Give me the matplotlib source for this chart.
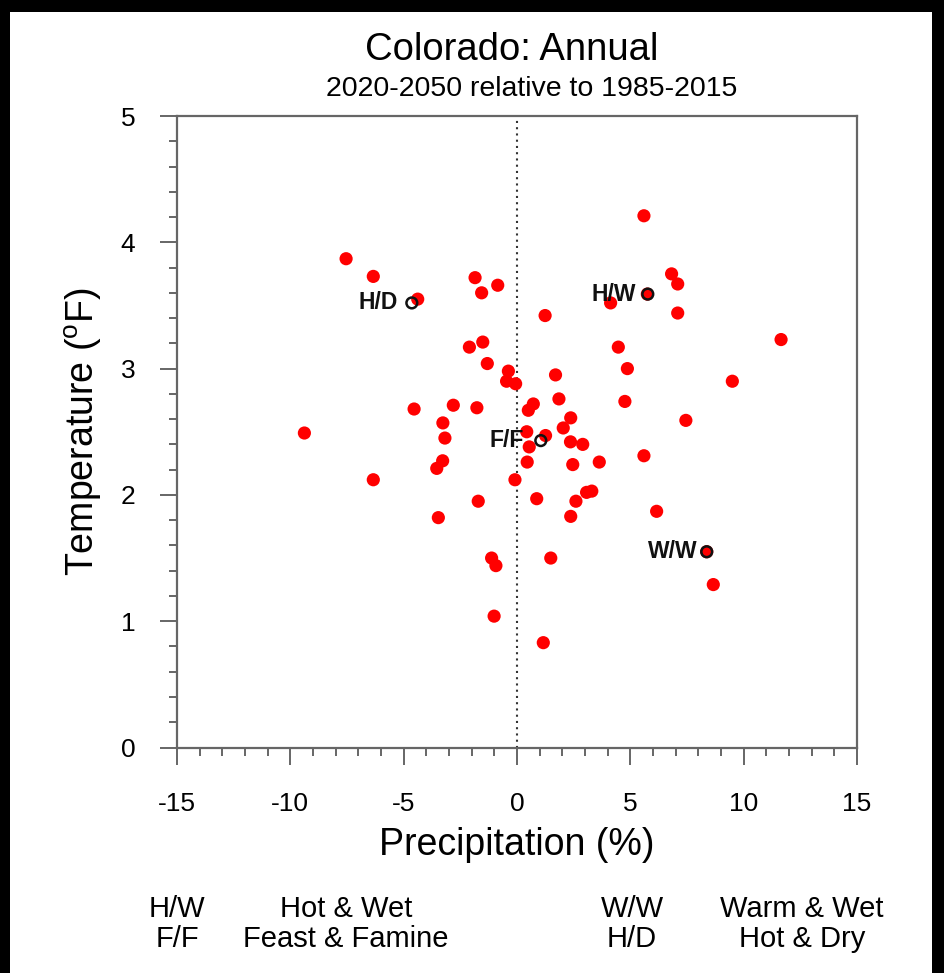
import matplotlib
matplotlib.use("Agg")
import matplotlib.pyplot as plt
from matplotlib.patches import Rectangle
from matplotlib.ticker import MultipleLocator

plt.rcParams["font.family"] = ["Liberation Sans", "DejaVu Sans"]
plt.rcParams["mathtext.fontset"] = "custom"
plt.rcParams["mathtext.rm"] = "Liberation Sans"
plt.rcParams["axes.unicode_minus"] = False

# model projections: precipitation change (%) and temperature change (F)
precip = [-7.54, -6.34, -4.38, -1.85, -0.85, -1.56, -2.10, -1.51, -1.31, -0.38,
          -0.46, -0.06, -4.54, -2.81, -1.77, -3.27, -3.18, -9.38, -3.28, -3.54,
          -6.34, -0.09, -1.71, -3.47, -1.12, -0.93, -1.01, 1.24, 1.70, 0.72,
          0.50, 1.85, 2.37, 2.04, 0.43, 1.26, 0.54, 2.36, 2.90, 0.45,
          2.46, 3.63, 5.60, 0.87, 2.60, 3.07, 3.30, 2.37, 6.16, 1.49,
          1.16, 8.37, 8.66, 5.60, 6.82, 7.09, 5.75, 4.13, 7.09, 11.65,
          4.47, 4.87, 9.50, 4.76, 7.45]
temp = [3.87, 3.73, 3.55, 3.72, 3.66, 3.60, 3.17, 3.21, 3.04, 2.98,
        2.90, 2.88, 2.68, 2.71, 2.69, 2.57, 2.45, 2.49, 2.27, 2.21,
        2.12, 2.12, 1.95, 1.82, 1.50, 1.44, 1.04, 3.42, 2.95, 2.72,
        2.67, 2.76, 2.61, 2.53, 2.50, 2.47, 2.38, 2.42, 2.40, 2.26,
        2.24, 2.26, 2.31, 1.97, 1.95, 2.02, 2.03, 1.83, 1.87, 1.50,
        0.83, 1.55, 1.29, 4.21, 3.75, 3.67, 3.59, 3.52, 3.44, 3.23,
        3.17, 3.00, 2.90, 2.74, 2.59]

# selected scenario models
sel_labels = ["H/D", "H/W", "F/F", "W/W"]
sel_precip = [-4.64, 5.77, 1.05, 8.37]
sel_temp = [3.52, 3.59, 2.43, 1.55]

key_abbr = ["H/W\nF/F", "W/W\nH/D"]
key_desc = ["Hot & Wet\nFeast & Famine", "Warm & Wet\nHot & Dry"]

fig = plt.figure(figsize=(9.45, 9.73), dpi=100, facecolor="black")
# white page inside the black border
fig.patches.append(Rectangle((10 / 945, 0), 922 / 945, 1 - 12 / 973,
                             transform=fig.transFigure, facecolor="white",
                             edgecolor="none", zorder=-10))

ax = fig.add_axes([177 / 945, 1 - 747.5 / 973, 680 / 945, 631.5 / 973])
frame = "#666666"

ax.axvline(0, color="#333333", lw=1.5, ls=(0, (1, 2)), zorder=1)
ax.scatter(precip, temp, s=90, color="#ff0000", edgecolors="none", zorder=2)
ax.scatter(sel_precip, sel_temp, s=60, facecolors="none", edgecolors="#111111",
           linewidths=1.8, zorder=3)
for lab, x, y in zip(sel_labels, sel_precip, sel_temp):
    ax.text(x - 1.5, y, lab, ha="center", va="center", fontsize=16.5,
            fontweight="bold", color="#111111", zorder=4)

ax.set_xlim(-15, 15)
ax.set_ylim(0, 5)
ax.xaxis.set_major_locator(MultipleLocator(5))
ax.xaxis.set_minor_locator(MultipleLocator(1))
ax.yaxis.set_major_locator(MultipleLocator(1))
ax.yaxis.set_minor_locator(MultipleLocator(0.2))
ax.tick_params(which="both", direction="out", color=frame, width=1.4,
               top=False, right=False)
ax.tick_params(which="major", length=12, labelsize=19)
ax.tick_params(which="minor", length=5.5)
ax.tick_params(axis="x", which="major", pad=20)
ax.tick_params(axis="y", which="major", pad=18)
for sp in ax.spines.values():
    sp.set_color(frame)
    sp.set_linewidth(1.6)

ax.set_xlabel("Precipitation (%)", fontsize=27, labelpad=8)
ax.set_ylabel(r"Temperature ($^{\mathrm{o}}$F)", fontsize=27, labelpad=12)

fig.text(512 / 945, 1 - 50 / 973, "Colorado: Annual", ha="center",
         va="center", fontsize=27.5)
fig.text(532 / 945, 1 - 89 / 973, "2020-2050 relative to 1985-2015",
         ha="center", va="center", fontsize=20.5)

for abbr, desc, xa, xd in zip(key_abbr, key_desc, [177, 632], [346, 802]):
    fig.text(xa / 945, 1 - 924 / 973, abbr, ha="center", va="center",
             fontsize=21, linespacing=1.05)
    fig.text(xd / 945, 1 - 924 / 973, desc, ha="center", va="center",
             fontsize=21, linespacing=1.05)

fig.savefig("out.png", dpi=100, facecolor=fig.get_facecolor())
